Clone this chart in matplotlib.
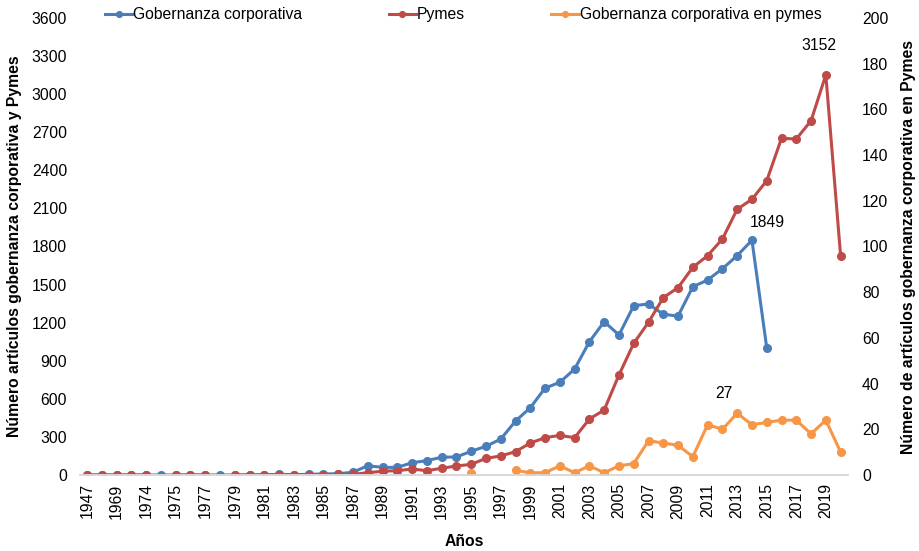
import numpy as np
import matplotlib
matplotlib.use('Agg')
import matplotlib.pyplot as plt

plt.rcParams['font.family'] = ['Liberation Sans', 'DejaVu Sans']

# Category labels (only every other one is shown on the axis)
years = ['1947', '1960', '1969', '1971', '1974', '1974', '1975'] + [str(y) for y in range(1976, 2021)]

nan = np.nan
# Gobernanza corporativa (left axis)
gobernanza = [0, 0, 0, 0, 0, 0, 0, 0, 0, 0,
              0, 1, 2, 5, 3, 5, 8, 10, 22, 73,
              60, 60, 97, 113, 140, 142, 187, 226, 283, 425,
              530, 685, 730, 835, 1050, 1208, 1103, 1334, 1347, 1266,
              1252, 1483, 1536, 1625, 1728, 1849, 1003, nan, nan, nan,
              nan, nan]
# Pymes (left axis)
pymes = [0, 0, 0, 0, 0, nan, 0, 0, 0, nan,
         0, 0, 1, 1, 2, 2, 3, 4, 5, 18,
         30, 34, 47, 34, 53, 71, 84, 131, 150, 184,
         252, 294, 312, 294, 441, 512, 788, 1037, 1203, 1397,
         1476, 1636, 1728, 1859, 2093, 2172, 2318, 2652, 2647, 2791,
         3152, 1727]
# Gobernanza corporativa en pymes (right axis)
gob_pymes = [nan] * 26 + [1, nan, nan, 2, 1, 1, 4, 1, 4, 1,
                          4, 5, 15, 14, 13, 8, 22, 20, 27, 22,
                          23, 24, 24, 18, 24, 10]

x = np.arange(len(years))

fig = plt.figure(figsize=(9.19, 5.51), dpi=100)
ax = fig.add_axes([79.6 / 919, 76 / 551, (848 - 79.6) / 919, (475 - 18) / 551])
ax2 = ax.twinx()

blue = '#4A7EBB'
red = '#BE4B48'
orange = '#F79646'
fs = 11.3

l1, = ax.plot(x, gobernanza, color=blue, lw=2.2, marker='o', ms=5.5, label='Gobernanza corporativa')
l2, = ax.plot(x, pymes, color=red, lw=2.2, marker='o', ms=5.5, label='Pymes')
l3, = ax2.plot(x, gob_pymes, color=orange, lw=2.2, marker='o', ms=5.5, label='Gobernanza corporativa en pymes')

ax.set_xlim(-0.5, len(years) - 0.5)
ax.set_ylim(0, 3600)
ax2.set_ylim(0, 200)
ax.set_yticks(np.arange(0, 3601, 300))
ax2.set_yticks(np.arange(0, 201, 20))
ax.set_xticks(x[::2])
ax.set_xticklabels(years[::2], rotation=90)

for a in (ax, ax2):
    for s in ['top', 'left', 'right']:
        a.spines[s].set_visible(False)
    a.spines['bottom'].set_color('#D9D9D9')
    a.spines['bottom'].set_linewidth(1.2)
ax.tick_params(axis='both', length=0, labelsize=fs)
ax.tick_params(axis='y', pad=9)
ax.tick_params(axis='x', pad=6)
ax2.tick_params(axis='y', length=0, labelsize=fs, pad=10)

ax.set_ylabel('Número artículos gobernanza corporativa y Pymes', fontsize=fs, fontweight='bold', labelpad=7)
ax2.set_ylabel('Número de artículos gobernanza corporativa en Pymes', fontsize=fs, fontweight='bold', labelpad=9)
ax.set_xlabel('Años', fontsize=fs, fontweight='bold', labelpad=11)

# Data labels
ax.annotate('1849', (45, 1849), xytext=(11, 12.5), textcoords='offset points', ha='center', va='center', fontsize=fs)
ax.annotate('3152', (50, 3152), xytext=(-5, 21.5), textcoords='offset points', ha='center', va='center', fontsize=fs)
ax2.annotate('27', (44, 27), xytext=(-9.5, 14), textcoords='offset points', ha='center', va='center', fontsize=fs)

fig.legend(handles=[l1, l2, l3], loc='center left', bbox_to_anchor=(105 / 919, 1 - 15 / 551),
           ncol=3, frameon=False, fontsize=fs, handlelength=1.75, handletextpad=0.05,
           columnspacing=5.5, borderpad=0, borderaxespad=0, markerscale=0.75)

fig.savefig('out.png', dpi=100)
